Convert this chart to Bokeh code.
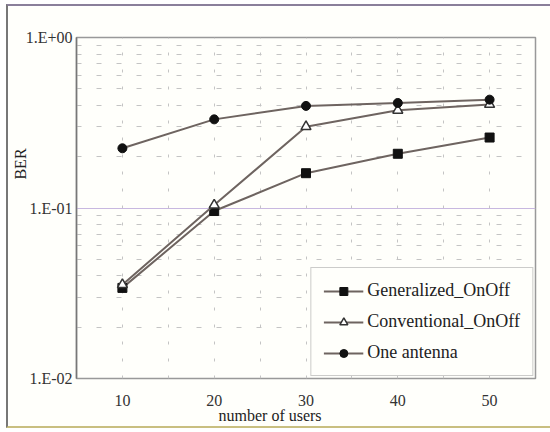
from bokeh.plotting import figure
from bokeh.models import FixedTicker, Legend, LegendItem, Title, CustomJSTickFormatter
from bokeh.embed import file_html
from bokeh.resources import INLINE

users = [10, 20, 30, 40, 50]
generalized = [0.034, 0.096, 0.160, 0.208, 0.259]
conventional = [0.0355, 0.104, 0.300, 0.374, 0.405]
one_antenna = [0.224, 0.331, 0.397, 0.413, 0.432]
y_ticks = [0.01, 0.1, 1.0]
y_tick_labels = ["1.E-02", "1.E-01", "1.E+00"]

FONT = "'Liberation Serif', serif"

# canvas sits inside an outer chart border (offset 8px left, 6px top)
p = figure(width=550, height=424, y_axis_type="log", x_range=(5, 55), y_range=(0.01, 1.0),
           output_backend="svg", toolbar_location=None,
           min_border_left=60, min_border_right=23, min_border_top=31, min_border_bottom=52)
p.styles = {"border-left": "2px solid #777777", "border-top": "2px solid #8a7f9a",
            "border-bottom": "2px solid #c9bf80", "margin-left": "6px", "margin-top": "4px"}
p.background_fill_color = "#fffffb"
p.border_fill_color = "#fffffb"
p.outline_line_color = "#999999"
p.outline_line_width = 1.5

p.xaxis.ticker = FixedTicker(ticks=users)
p.xaxis.axis_line_color = None
p.xaxis.major_tick_line_color = None
p.xaxis.minor_tick_line_color = None
p.xaxis.major_tick_out = 0
p.xaxis.minor_tick_out = 0
p.xaxis.major_label_text_font = FONT
p.xaxis.major_label_text_font_size = "16px"
p.xaxis.major_label_text_color = "#333333"
p.xaxis.major_label_standoff = 16

p.yaxis.ticker = FixedTicker(ticks=y_ticks,
                             minor_ticks=[m * d for d in (0.01, 0.1) for m in range(2, 10)])
p.yaxis.formatter = CustomJSTickFormatter(args=dict(tvals=y_ticks, tlabels=y_tick_labels), code="""
let best = 0;
for (let i = 0; i < tvals.length; i++) {
  if (Math.abs(Math.log10(tick) - Math.log10(tvals[i])) < Math.abs(Math.log10(tick) - Math.log10(tvals[best]))) best = i;
}
return tlabels[best];
""")
p.yaxis.axis_line_color = "#777777"
p.yaxis.axis_line_width = 1.5
p.yaxis.major_tick_line_color = None
p.yaxis.minor_tick_line_color = None
p.yaxis.major_tick_out = 0
p.yaxis.minor_tick_out = 0
p.yaxis.major_label_text_font = FONT
p.yaxis.major_label_text_font_size = "16px"
p.yaxis.major_label_text_color = "#333333"
p.yaxis.major_label_standoff = 4
# "BER" sits above the middle of the axis in the reference: pad with no-break spaces
p.yaxis.axis_label = "\u00a0" * 22 + "BER"
p.yaxis.axis_label_text_font = FONT
p.yaxis.axis_label_text_font_style = "normal"
p.yaxis.axis_label_text_font_size = "16px"
p.yaxis.axis_label_text_color = "#222222"
p.yaxis.axis_label_standoff = -6

# x axis title, placed where the reference has it
xt = Title(text="number of users", align="left", offset=142, text_font=FONT,
           text_font_style="normal", text_font_size="16px", text_color="#222222")
try:
    xt.standoff = -8
except Exception:
    xt.standoff = 0
p.add_layout(xt, "below")

p.xgrid.ticker = FixedTicker(ticks=[10, 15, 20, 25, 30, 35, 40, 45, 50])
p.xgrid.grid_line_color = "#c4c4c4"
p.xgrid.grid_line_dash = "3 14"
p.xgrid.grid_line_width = 1
p.ygrid.grid_line_color = "#c8b8e0"
p.ygrid.grid_line_width = 1
p.ygrid.minor_grid_line_color = "#c4c4c4"
p.ygrid.minor_grid_line_dash = "5 15"
p.ygrid.minor_grid_line_width = 1

line_col = "#6e6460"
r1 = p.line(users, generalized, line_color=line_col, line_width=2)
s1 = p.scatter(users, generalized, marker="square", size=9, fill_color="#111111", line_color="#111111")
r2 = p.line(users, conventional, line_color=line_col, line_width=2)
s2 = p.scatter(users, conventional, marker="triangle", size=10, fill_color="white", line_color="#333333", line_width=1.5)
r3 = p.line(users, one_antenna, line_color=line_col, line_width=2)
s3 = p.scatter(users, one_antenna, marker="circle", size=9, fill_color="#111111", line_color="#111111")

legend = Legend(items=[
    LegendItem(label="Generalized_OnOff", renderers=[r1, s1]),
    LegendItem(label="Conventional_OnOff", renderers=[r2, s2]),
    LegendItem(label="One antenna", renderers=[r3, s3]),
], location="bottom_right",
   label_text_font=FONT, label_text_font_size="18px", label_text_color="#222222",
   border_line_color="#999999", border_line_width=1,
   background_fill_color="#fffffb", background_fill_alpha=1,
   glyph_width=40, spacing=10, padding=12, margin=2, label_standoff=4)
p.add_layout(legend)

open("out.html", "w").write(file_html(p, INLINE))
